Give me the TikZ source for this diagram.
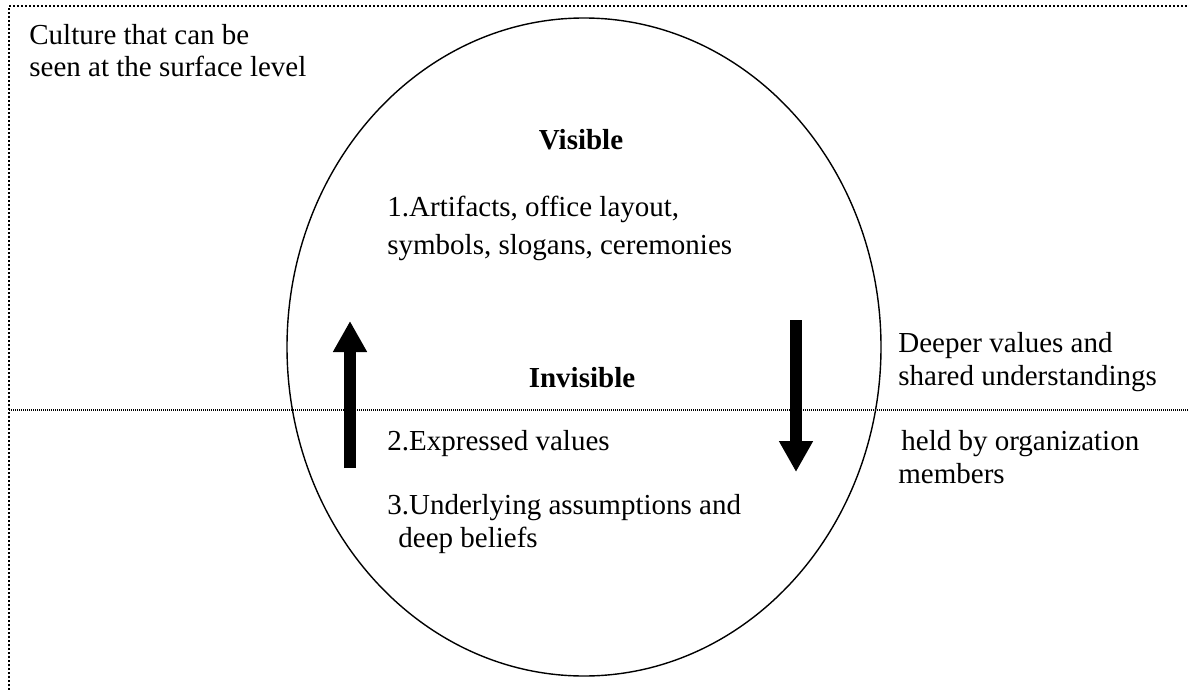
\documentclass[tikz,border=0pt]{standalone}
\usepackage{fontspec}
\setmainfont{Liberation Serif}
\usetikzlibrary{arrows.meta}
\begin{document}
\begin{tikzpicture}[x=0.5pt,y=-0.5pt,
  txt/.style={anchor=base west, inner sep=0pt, font=\fontsize{14.5}{16.5}\selectfont},
  hdr/.style={anchor=base, inner sep=0pt, font=\fontsize{14.5}{16.5}\selectfont\bfseries},
  frame/.style={line width=1pt, dash pattern=on 1pt off 1pt},
  divider/.style={line width=0.6pt, dash pattern=on 0.5pt off 0.5pt},
  fatarrow/.style={line width=6pt, -{Triangle[width=16pt,length=15.5pt]}}]
\useasboundingbox (0,0) rectangle (1188,690);

% outer frame (top and left edges) and the surface line
\draw[frame] (9,690) -- (9,6) -- (1188,6);
\draw[divider] (9,410) -- (1188,410);

% the culture "iceberg" ellipse
\draw[line width=0.7pt] (584,347) ellipse [x radius=297, y radius=329];

% side captions
\node[txt] (surf1) at (29,45) {Culture that can be};
\node[txt] (surf2) at (29,77) {seen at the surface level};
\node[txt] (deep1) at (898,352) {Deeper values and};
\node[txt] (deep2) at (898,385) {shared understandings};
\node[txt] (deep3) at (901,450) {held by organization};
\node[txt] (deep4) at (898,483) {members};

% levels inside the ellipse
\node[hdr] (vis) at (581,149) {Visible};
\node[txt] (lvl1a) at (387,216) {1.Artifacts, office layout,};
\node[txt] (lvl1b) at (387,254) {symbols, slogans, ceremonies};
\node[hdr] (invis) at (582,387) {Invisible};
\node[txt] (lvl2) at (387,450) {2.Expressed values};
\node[txt] (lvl3a) at (387,514) {3.Underlying assumptions and};
\node[txt] (lvl3b) at (398,547) {deep beliefs};

% upward and downward arrows
\coordinate (upS) at (350,468);
\coordinate (upE) at (350,321);
\coordinate (dnS) at (796,320);
\coordinate (dnE) at (796,472);
\draw[fatarrow] (upS) -- (upE);
\draw[fatarrow] (dnS) -- (dnE);
\end{tikzpicture}
\end{document}
